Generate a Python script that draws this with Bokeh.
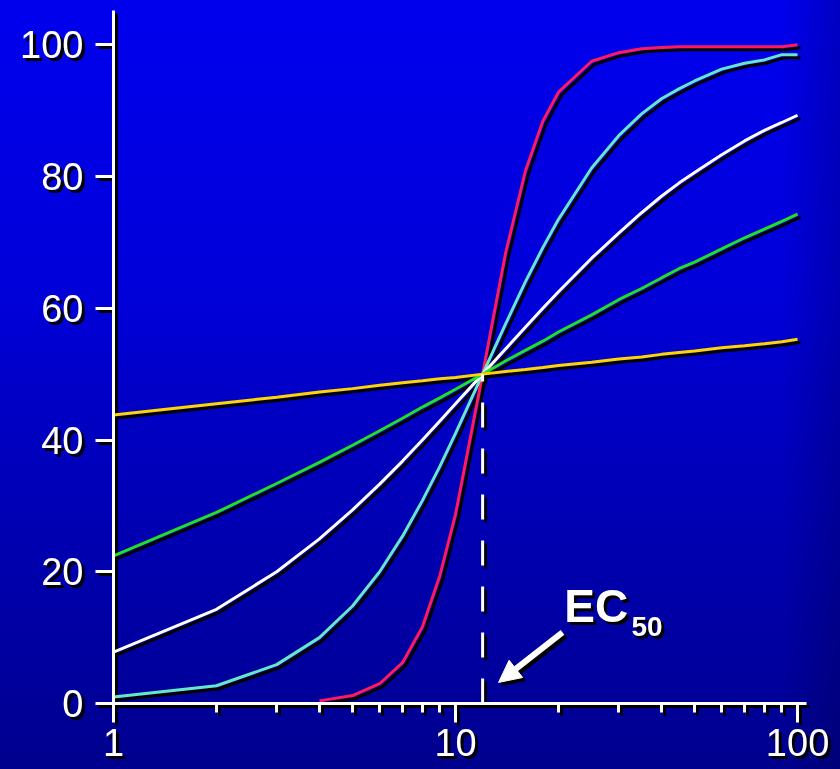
from bokeh.plotting import figure
from bokeh.models import Range1d, FixedTicker, Arrow, NormalHead, Label
from bokeh.embed import file_html
from bokeh.resources import INLINE

# ---- data ----
conc = [1, 2, 3, 4, 5, 6, 7, 8, 9, 10, 12, 14, 16, 18, 20, 25, 30, 35, 40, 45, 50, 60, 70, 80, 90, 100]
red_conc = conc[3:]
red = [0.4, 1.2, 3.0, 6.2, 11.6, 19.4, 28.7, 50, 68.3, 80.8, 88.4, 92.8, 97.5, 98.8, 99.4, 99.6,
       99.7, 99.7, 99.7, 99.7, 99.7, 99.7, 100]
cyan = [1.0, 2.7, 5.9, 10, 14.8, 20, 25.4, 30.8, 36, 41, 50, 57.6, 64, 69.2, 73.5, 81.3, 86.2, 89.5,
        91.8, 93.3, 94.5, 96.3, 97.2, 97.7, 98.5, 98.5]
white = [7.8, 14.3, 20, 25, 29.4, 33.3, 36.8, 40, 42.9, 45.5, 50, 53.8, 57.1, 60, 62.5, 67.6, 71.4,
         74.5, 77, 79, 80.6, 83.3, 85.4, 87, 88.2, 89.3]
green = [22.4, 29, 33.4, 36.6, 39.2, 41.4, 43.3, 45, 46.4, 47.7, 50, 52, 53.6, 55, 56.4, 59, 61.3,
         63, 64.6, 66, 67, 69, 70.7, 72, 73.2, 74.3]
yellow = [43.8, 45.5, 46.5, 47.3, 47.8, 48.3, 48.7, 49, 49.3, 49.5, 50, 50.4, 50.7, 51, 51.3, 51.8,
          52.3, 52.6, 53, 53.3, 53.5, 54, 54.3, 54.6, 54.9, 55.3]
ec50 = 12
ec50_response = 50

x_ticks = [1, 10, 100]
x_tick_labels = ["1", "10", "100"]
x_minor = [2, 3, 4, 5, 6, 7, 8, 9, 20, 30, 40, 50, 60, 70, 80, 90]
y_ticks = [0, 20, 40, 60, 80, 100]

# annotation placement
label_main = ("EC", 20.8, 14.8)
label_sub = ("50", 32.7, 11.7)
arrow_from = (20.55, 10.8)
arrow_to = (13.36, 3.2)

FONT = "Liberation Sans"

p = figure(x_axis_type="log",
           x_range=Range1d(1, 106.2), y_range=Range1d(0, 105.2),
           width=824, height=761,
           min_border_left=105, min_border_right=26, min_border_top=2, min_border_bottom=66,
           output_backend="svg", toolbar_location=None)
p.background_fill_alpha = 0
p.border_fill_alpha = 0
p.outline_line_color = None
p.grid.visible = False
p.styles = {"filter": "drop-shadow(3px 3px 0px #000000)"}

# axes
for ax in (p.xaxis[0], p.yaxis[0]):
    ax.axis_line_color = "white"
    ax.axis_line_width = 3
    ax.major_tick_line_color = "white"
    ax.major_tick_line_width = 3
    ax.minor_tick_line_color = "white"
    ax.minor_tick_line_width = 3
    ax.major_tick_in = 0
    ax.minor_tick_in = 0
    ax.major_label_text_color = "white"
    ax.major_label_text_font = FONT
    ax.major_label_text_font_size = "38px"

p.xaxis.ticker = FixedTicker(ticks=x_ticks, minor_ticks=x_minor)
p.xaxis.major_label_overrides = {t: s for t, s in zip(x_ticks, x_tick_labels)}
p.xaxis.major_tick_out = 19
p.xaxis.minor_tick_out = 9
p.xaxis.major_label_standoff = 6

p.yaxis.ticker = FixedTicker(ticks=y_ticks, minor_ticks=[])
p.yaxis.major_tick_out = 18
p.yaxis.minor_tick_out = 0
p.yaxis.major_label_standoff = 12

# curves
p.line(red_conc, red, line_color="#ff1a5e", line_width=3)
p.line(conc, cyan, line_color="#66e8c8", line_width=3)
p.line(conc, white, line_color="#ffffff", line_width=3)
p.line(conc, green, line_color="#22e022", line_width=3)
p.line(conc, yellow, line_color="#ffd400", line_width=3)

# EC50 dashed drop line
p.line([ec50, ec50], [0, ec50_response], line_color="white", line_width=3, line_dash="25 21")

# arrow and label
p.add_layout(Arrow(end=NormalHead(size=22, fill_color="white", line_color="white", line_width=1),
                   x_start=arrow_from[0], y_start=arrow_from[1],
                   x_end=arrow_to[0], y_end=arrow_to[1],
                   line_color="white", line_width=6))
p.add_layout(Label(x=label_main[1], y=label_main[2], text=label_main[0], text_color="white",
                   text_font=FONT, text_font_style="bold", text_font_size="46px",
                   text_baseline="middle", text_align="left"))
p.add_layout(Label(x=label_sub[1], y=label_sub[2], text=label_sub[0], text_color="white",
                   text_font=FONT, text_font_style="bold", text_font_size="28px",
                   text_baseline="middle", text_align="left"))

html = file_html(p, INLINE)
css = ("<style>html{height:100%;background:"
       "linear-gradient(to right, rgba(0,0,0,0) 93%, rgba(0,0,40,0.22) 100%),"
       "linear-gradient(to bottom, #0000ee 0%, #0000d8 40%, #0000c8 50%, #00009a 90%, #00008e 100%);}"
       "body{margin:8px;overflow:hidden;background:transparent;}</style></head>")
html = html.replace("</head>", css, 1)
open("out.html", "w").write(html)
